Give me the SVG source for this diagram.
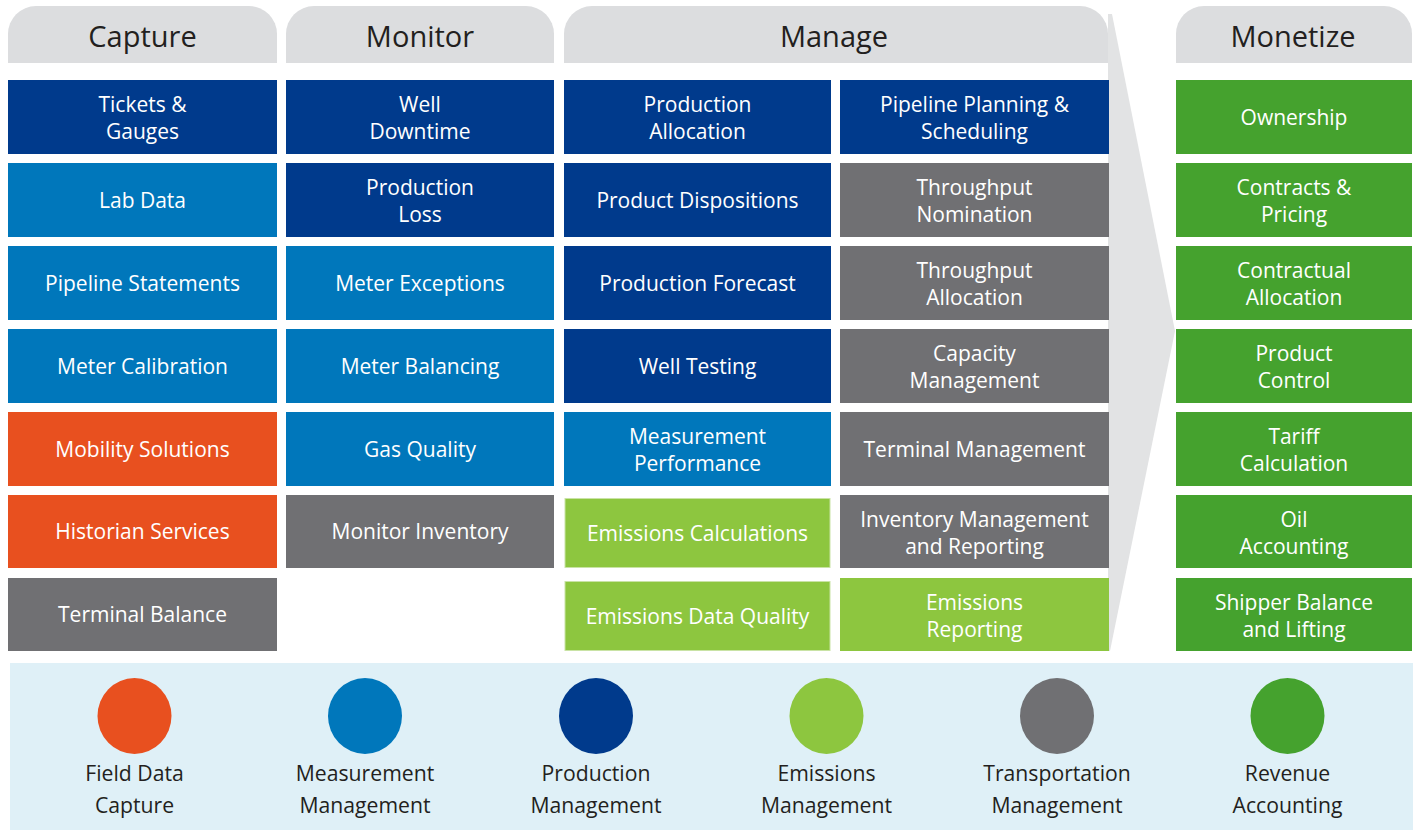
<svg xmlns="http://www.w3.org/2000/svg" width="1418" height="831" viewBox="0 0 1418 831">
<style>
.hdr{fill:#dcdddf}
.ht{font-family:"Open Sans","Liberation Sans",sans-serif;font-size:29px;fill:#231f20;text-anchor:middle}
.bt{font-family:"Open Sans","Liberation Sans",sans-serif;font-size:21px;fill:#ffffff;text-anchor:middle}
.lt{font-family:"Open Sans","Liberation Sans",sans-serif;font-size:21.2px;fill:#231f20;text-anchor:middle}
.db{fill:#003a8c}.mb{fill:#0077bb}.or{fill:#e8501f}.gy{fill:#707073}.lg{fill:#8dc63f}.gr{fill:#45a22e}
.lgi{fill:#8dc63f;stroke:#c9e3a5;stroke-width:1}
</style>
<rect width="1418" height="831" fill="#ffffff"/>
<polygon points="1108,14 1112,14 1175,331 1110,651 1108,651" fill="#e2e3e4"/>
<g id="headers">
<g id="h-capture"><path class="hdr" d="M8,63 V34 A28,28 0 0 1 36,6 H249 A28,28 0 0 1 277,34 V63 Z"/><text class="ht" x="142.5" y="47">Capture</text></g>
<g id="h-monitor"><path class="hdr" d="M286,63 V34 A28,28 0 0 1 314,6 H526 A28,28 0 0 1 554,34 V63 Z"/><text class="ht" x="420" y="47">Monitor</text></g>
<g id="h-manage"><path class="hdr" d="M564,63 V34 A28,28 0 0 1 592,6 H1080 A28,28 0 0 1 1108,34 V63 Z"/><text class="ht" x="834" y="47">Manage</text></g>
<g id="h-monetize"><path class="hdr" d="M1176,63 V34 A28,28 0 0 1 1204,6 H1384 A28,28 0 0 1 1412,34 V63 Z"/><text class="ht" x="1293" y="47">Monetize</text></g>
</g>
<g id="capture">
<g id="n-tickets"><rect class="db" x="8" y="80" width="269" height="74"/><text class="bt" x="142.5" y="112">Tickets &amp;</text><text class="bt" x="142.5" y="139">Gauges</text></g>
<g id="n-lab"><rect class="mb" x="8" y="163" width="269" height="74"/><text class="bt" x="142.5" y="208">Lab Data</text></g>
<g id="n-pipeline-statements"><rect class="mb" x="8" y="246" width="269" height="74"/><text class="bt" x="142.5" y="291">Pipeline Statements</text></g>
<g id="n-meter-calibration"><rect class="mb" x="8" y="329" width="269" height="74"/><text class="bt" x="142.5" y="374">Meter Calibration</text></g>
<g id="n-mobility"><rect class="or" x="8" y="412" width="269" height="74"/><text class="bt" x="142.5" y="457">Mobility Solutions</text></g>
<g id="n-historian"><rect class="or" x="8" y="495" width="269" height="73"/><text class="bt" x="142.5" y="539">Historian Services</text></g>
<g id="n-terminal-balance"><rect class="gy" x="8" y="578" width="269" height="73"/><text class="bt" x="142.5" y="622">Terminal Balance</text></g>
</g>
<g id="monitor">
<g id="n-well-downtime"><rect class="db" x="286" y="80" width="268" height="74"/><text class="bt" x="420" y="112">Well</text><text class="bt" x="420" y="139">Downtime</text></g>
<g id="n-production-loss"><rect class="db" x="286" y="163" width="268" height="74"/><text class="bt" x="420" y="195">Production</text><text class="bt" x="420" y="222">Loss</text></g>
<g id="n-meter-exceptions"><rect class="mb" x="286" y="246" width="268" height="74"/><text class="bt" x="420" y="291">Meter Exceptions</text></g>
<g id="n-meter-balancing"><rect class="mb" x="286" y="329" width="268" height="74"/><text class="bt" x="420" y="374">Meter Balancing</text></g>
<g id="n-gas-quality"><rect class="mb" x="286" y="412" width="268" height="74"/><text class="bt" x="420" y="457">Gas Quality</text></g>
<g id="n-monitor-inventory"><rect class="gy" x="286" y="495" width="268" height="73"/><text class="bt" x="420" y="539">Monitor Inventory</text></g>
</g>
<g id="manage">
<g id="n-production-allocation"><rect class="db" x="564" y="80" width="267" height="74"/><text class="bt" x="697.5" y="112">Production</text><text class="bt" x="697.5" y="139">Allocation</text></g>
<g id="n-product-dispositions"><rect class="db" x="564" y="163" width="267" height="74"/><text class="bt" x="697.5" y="208">Product Dispositions</text></g>
<g id="n-production-forecast"><rect class="db" x="564" y="246" width="267" height="74"/><text class="bt" x="697.5" y="291">Production Forecast</text></g>
<g id="n-well-testing"><rect class="db" x="564" y="329" width="267" height="74"/><text class="bt" x="697.5" y="374">Well Testing</text></g>
<g id="n-measurement-performance"><rect class="mb" x="564" y="412" width="267" height="74"/><text class="bt" x="697.5" y="444">Measurement</text><text class="bt" x="697.5" y="471">Performance</text></g>
<g id="n-emissions-calculations"><rect class="lgi" x="565" y="498.5" width="265" height="69"/><text class="bt" x="697.5" y="541">Emissions Calculations</text></g>
<g id="n-emissions-data-quality"><rect class="lgi" x="565" y="581.5" width="265" height="69"/><text class="bt" x="697.5" y="624">Emissions Data Quality</text></g>
<g id="n-pipeline-planning"><rect class="db" x="840" y="80" width="269" height="74"/><text class="bt" x="974.5" y="112">Pipeline Planning &amp;</text><text class="bt" x="974.5" y="139">Scheduling</text></g>
<g id="n-throughput-nomination"><rect class="gy" x="840" y="163" width="269" height="74"/><text class="bt" x="974.5" y="195">Throughput</text><text class="bt" x="974.5" y="222">Nomination</text></g>
<g id="n-throughput-allocation"><rect class="gy" x="840" y="246" width="269" height="74"/><text class="bt" x="974.5" y="278">Throughput</text><text class="bt" x="974.5" y="305">Allocation</text></g>
<g id="n-capacity-management"><rect class="gy" x="840" y="329" width="269" height="74"/><text class="bt" x="974.5" y="361">Capacity</text><text class="bt" x="974.5" y="388">Management</text></g>
<g id="n-terminal-management"><rect class="gy" x="840" y="412" width="269" height="74"/><text class="bt" x="974.5" y="457">Terminal Management</text></g>
<g id="n-inventory-management"><rect class="gy" x="840" y="495" width="269" height="73"/><text class="bt" x="974.5" y="527">Inventory Management</text><text class="bt" x="974.5" y="554">and Reporting</text></g>
<g id="n-emissions-reporting"><rect class="lg" x="840" y="578" width="269" height="73"/><text class="bt" x="974.5" y="610">Emissions</text><text class="bt" x="974.5" y="637">Reporting</text></g>
</g>
<g id="monetize">
<g id="n-ownership"><rect class="gr" x="1176" y="80" width="236" height="74"/><text class="bt" x="1294" y="125">Ownership</text></g>
<g id="n-contracts"><rect class="gr" x="1176" y="163" width="236" height="74"/><text class="bt" x="1294" y="195">Contracts &amp;</text><text class="bt" x="1294" y="222">Pricing</text></g>
<g id="n-contractual-allocation"><rect class="gr" x="1176" y="246" width="236" height="74"/><text class="bt" x="1294" y="278">Contractual</text><text class="bt" x="1294" y="305">Allocation</text></g>
<g id="n-product-control"><rect class="gr" x="1176" y="329" width="236" height="74"/><text class="bt" x="1294" y="361">Product</text><text class="bt" x="1294" y="388">Control</text></g>
<g id="n-tariff"><rect class="gr" x="1176" y="412" width="236" height="74"/><text class="bt" x="1294" y="444">Tariff</text><text class="bt" x="1294" y="471">Calculation</text></g>
<g id="n-oil-accounting"><rect class="gr" x="1176" y="495" width="236" height="73"/><text class="bt" x="1294" y="527">Oil</text><text class="bt" x="1294" y="554">Accounting</text></g>
<g id="n-shipper-balance"><rect class="gr" x="1176" y="578" width="236" height="73"/><text class="bt" x="1294" y="610">Shipper Balance</text><text class="bt" x="1294" y="637">and Lifting</text></g>
</g>
<g id="legend">
<rect x="10" y="663" width="1403" height="167" fill="#dff0f7"/>
<g id="l-field"><ellipse cx="134.5" cy="716" rx="37" ry="38" class="or"/><text class="lt" x="134.5" y="781">Field Data</text><text class="lt" x="134.5" y="813">Capture</text></g>
<g id="l-measurement"><ellipse cx="365" cy="716" rx="37" ry="38" class="mb"/><text class="lt" x="365" y="781">Measurement</text><text class="lt" x="365" y="813">Management</text></g>
<g id="l-production"><ellipse cx="596" cy="716" rx="37" ry="38" class="db"/><text class="lt" x="596" y="781">Production</text><text class="lt" x="596" y="813">Management</text></g>
<g id="l-emissions"><ellipse cx="826.5" cy="716" rx="37" ry="38" class="lg"/><text class="lt" x="826.5" y="781">Emissions</text><text class="lt" x="826.5" y="813">Management</text></g>
<g id="l-transportation"><ellipse cx="1057" cy="716" rx="37" ry="38" class="gy"/><text class="lt" x="1057" y="781">Transportation</text><text class="lt" x="1057" y="813">Management</text></g>
<g id="l-revenue"><ellipse cx="1287.5" cy="716" rx="37" ry="38" class="gr"/><text class="lt" x="1287.5" y="781">Revenue</text><text class="lt" x="1287.5" y="813">Accounting</text></g>
</g>
</svg>
